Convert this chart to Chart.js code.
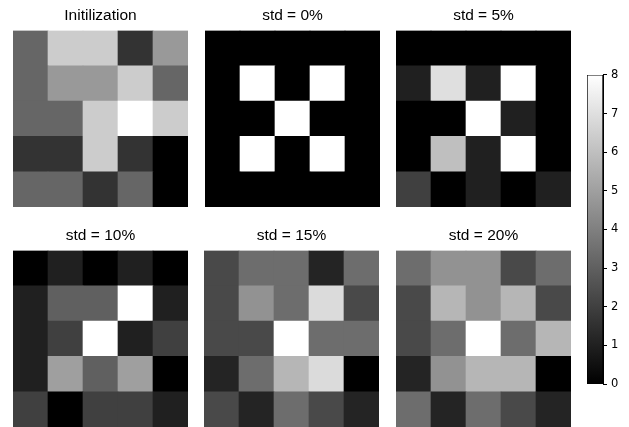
<!DOCTYPE html>
<html>
<head>
<meta charset="utf-8">
<script src="https://cdn.jsdelivr.net/npm/chart.js@4"></script>
<style>
  html, body { margin: 0; padding: 0; background: #fff; }
  body { width: 629px; height: 427px; position: relative; overflow: hidden; }
  .box { position: absolute; }
</style>
</head>
<body>
<div class="box" id="b0" style="left:13px;top:0px;width:175px;height:207px"><canvas id="c0"></canvas></div>
<div class="box" id="b1" style="left:205px;top:0px;width:175px;height:207px"><canvas id="c1"></canvas></div>
<div class="box" id="b2" style="left:396px;top:0px;width:175px;height:207px"><canvas id="c2"></canvas></div>
<div class="box" id="b3" style="left:13px;top:220px;width:175px;height:207px"><canvas id="c3"></canvas></div>
<div class="box" id="b4" style="left:204px;top:220px;width:175px;height:207px"><canvas id="c4"></canvas></div>
<div class="box" id="b5" style="left:396px;top:220px;width:175px;height:207px"><canvas id="c5"></canvas></div>
<div class="box" id="bcb" style="left:587px;top:64px;width:42px;height:331px"><canvas id="cb"></canvas></div>
<script>
"use strict";

// panel titles
let titles = ["Initilization", "std = 0%", "std = 5%", "std = 10%", "std = 15%", "std = 20%"];

// 5x5 grids, rows listed top to bottom, raw levels
let initGrid = [
  [2, 4, 4, 1, 3],
  [2, 3, 3, 4, 2],
  [2, 2, 4, 5, 4],
  [1, 1, 4, 1, 0],
  [2, 2, 1, 2, 0],
];
let std0Grid = [
  [0, 0, 0, 0, 0],
  [0, 1, 0, 1, 0],
  [0, 0, 1, 0, 0],
  [0, 1, 0, 1, 0],
  [0, 0, 0, 0, 0],
];
let std5Grid = [
  [0, 0, 0, 0, 0],
  [1, 7, 1, 8, 0],
  [0, 0, 8, 1, 0],
  [0, 6, 1, 8, 0],
  [2, 0, 1, 0, 1],
];
let std10Grid = [
  [0, 1, 0, 1, 0],
  [1, 3, 3, 8, 1],
  [1, 2, 8, 1, 2],
  [1, 5, 3, 5, 0],
  [2, 0, 2, 2, 1],
];
let std15Grid = [
  [2, 3, 3, 1, 3],
  [2, 4, 3, 6, 2],
  [2, 2, 7, 3, 3],
  [1, 3, 5, 6, 0],
  [2, 1, 3, 2, 1],
];
let std20Grid = [
  [3, 4, 4, 2, 3],
  [2, 5, 4, 5, 2],
  [2, 3, 7, 3, 5],
  [1, 4, 5, 5, 0],
  [3, 1, 3, 2, 1],
];
let grids = [initGrid, std0Grid, std5Grid, std10Grid, std15Grid, std20Grid];
// top level of each panel (maps to white)
let maxLevels = [5, 1, 8, 8, 7, 7];

let columns = ["0", "1", "2", "3", "4"];
let colorbarTicks = [0, 1, 2, 3, 4, 5, 6, 7, 8];

function grey(v, max) {
  let g = Math.round((v / max) * 255);
  return "rgb(" + g + "," + g + "," + g + ")";
}

function makeHeatmap(idx) {
  let grid = grids[idx];
  let datasets = [];
  // stacked bars draw from the bottom, so start with the last row
  for (let r = grid.length - 1; r >= 0; r--) {
    datasets.push({
      data: columns.map(() => 1),
      backgroundColor: grid[r].map((v) => grey(v, maxLevels[idx])),
      borderWidth: 0,
      barPercentage: 1,
      categoryPercentage: 1,
    });
  }
  new Chart(document.getElementById("c" + idx), {
    type: "bar",
    data: { labels: columns, datasets: datasets },
    options: {
      responsive: true,
      maintainAspectRatio: false,
      animation: false,
      events: [],
      layout: { padding: 0 },
      plugins: {
        legend: { display: false },
        tooltip: { enabled: false },
        title: {
          display: true,
          text: titles[idx],
          color: "#000",
          font: { family: "'Liberation Sans', Arial, sans-serif", size: 15.5, weight: "normal", lineHeight: 1.2 },
          padding: { top: 6, bottom: 6 },
        },
      },
      scales: {
        x: { display: false, stacked: true },
        y: { display: false, stacked: true, min: 0, max: 5 },
      },
    },
  });
}

for (let i = 0; i < grids.length; i++) {
  makeHeatmap(i);
}

// colour bar
new Chart(document.getElementById("cb"), {
  type: "bar",
  data: {
    labels: [""],
    datasets: [{
      data: [[colorbarTicks[0], colorbarTicks[colorbarTicks.length - 1]]],
      backgroundColor: function (ctx) {
        let chart = ctx.chart;
        let area = chart.chartArea;
        if (!area) return "#888";
        let ys = chart.scales.y;
        let g = chart.ctx.createLinearGradient(0, ys.getPixelForValue(0), 0, ys.getPixelForValue(8));
        g.addColorStop(0, "#000");
        g.addColorStop(1, "#fff");
        return g;
      },
      borderColor: "#000",
      borderWidth: 1,
      borderSkipped: false,
      barPercentage: 1,
      categoryPercentage: 1,
    }],
  },
  options: {
    responsive: true,
    maintainAspectRatio: false,
    animation: false,
    events: [],
    layout: { padding: 0 },
    plugins: { legend: { display: false }, tooltip: { enabled: false } },
    scales: {
      x: { display: false },
      y: {
        position: "right",
        min: 0,
        max: 8,
        afterFit: function (scale) { scale.width = 26; },
        afterBuildTicks: function (scale) { scale.ticks = colorbarTicks.map((v) => ({ value: v })); },
        ticks: {
          color: "#000",
          padding: 4,
          font: { family: "'DejaVu Sans', sans-serif", size: 11.5 },
        },
        grid: { drawOnChartArea: false, drawTicks: true, tickLength: 4, color: "#000", lineWidth: 1 },
        border: { display: true, color: "#000", width: 1 },
      },
    },
  },
});
</script>
</body>
</html>
